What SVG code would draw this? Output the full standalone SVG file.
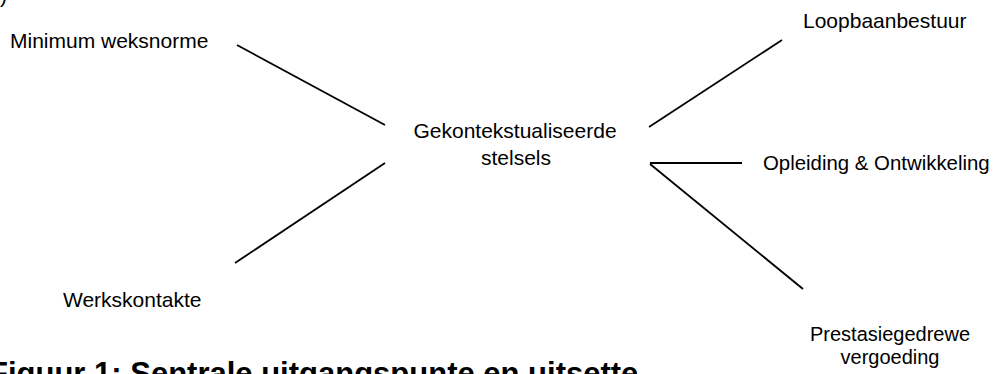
<svg xmlns="http://www.w3.org/2000/svg" width="1004" height="374" viewBox="0 0 1004 374">
<style>
.t{font-family:"Liberation Sans",Arial,sans-serif;font-size:21px;fill:#000}
.m{text-anchor:middle}
.c line{stroke:#000;stroke-width:1.8;stroke-linecap:butt}
.title{font-family:"Liberation Sans",Arial,sans-serif;font-size:31px;font-weight:bold;fill:#000}
</style>
<rect width="1004" height="374" fill="#fff"/>
<text class="t" x="0" y="3">)</text>
<g id="center"><text class="t m" x="515" y="138">Gekontekstualiseerde</text><text class="t m" x="516" y="165">stelsels</text></g>
<g id="minimum"><text class="t" x="10" y="48">Minimum weksnorme</text></g>
<g id="werkskontakte"><text class="t" x="63" y="307">Werkskontakte</text></g>
<g id="loopbaan"><text class="t" x="803" y="28">Loopbaanbestuur</text></g>
<g id="opleiding"><text class="t" x="763" y="170" style="font-size:20.4px">Opleiding &amp; Ontwikkeling</text></g>
<g id="prestasie"><text class="t m" x="890" y="341" style="font-size:20px">Prestasiegedrewe</text><text class="t m" x="890" y="364" style="font-size:20px">vergoeding</text></g>
<g id="connectors" class="c">
<line x1="237" y1="45" x2="385" y2="125"/>
<line x1="385" y1="163" x2="235" y2="263"/>
<line x1="782" y1="40" x2="649" y2="127"/>
<line x1="650" y1="163" x2="742" y2="163"/>
<line x1="650" y1="164" x2="803" y2="289"/>
</g>
<text class="title" x="-11" y="384">Figuur 1: Sentrale uitgangspunte en uitsette</text>
</svg>
